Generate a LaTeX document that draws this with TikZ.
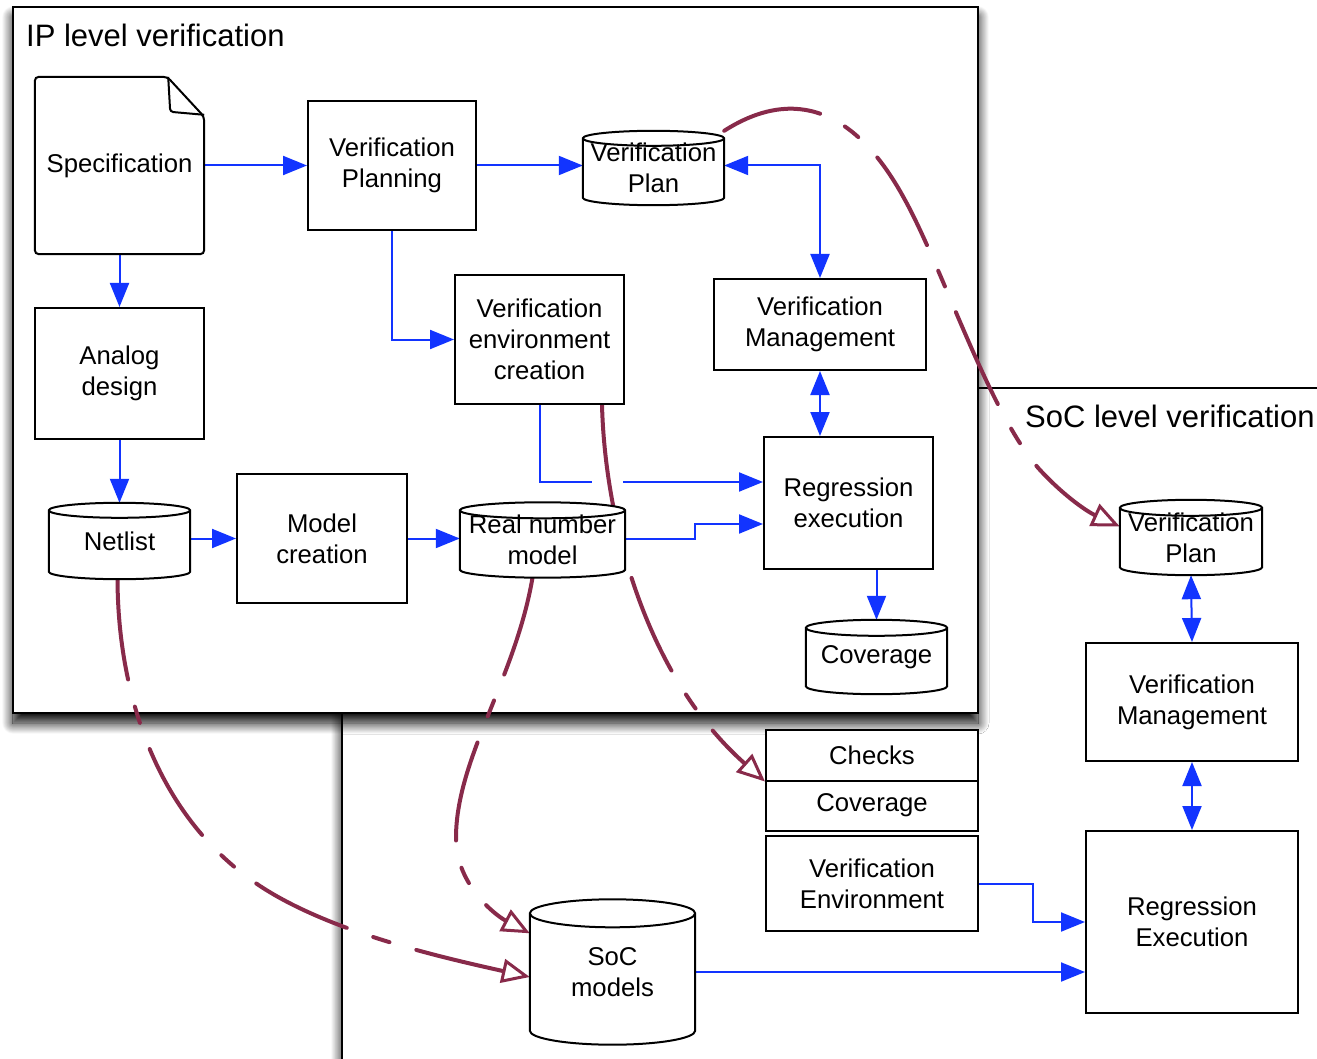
\documentclass[tikz,border=0pt]{standalone}
\usepackage{fontspec}
\setmainfont{Liberation Sans}
\usetikzlibrary{arrows.meta,calc,shadows.blur}

\definecolor{flow}{RGB}{18,52,255}
\definecolor{reuse}{RGB}{136,42,74}

\pgfdeclarelayer{frames}
\pgfdeclarelayer{links}
\pgfdeclarelayer{bodies}
\pgfsetlayers{frames,links,bodies,main}

% database drum drawn around a (borderless) node; #2 = half height of the rim in pt
\newcommand\drum[2]{%
  \filldraw[bodyline] let \p1=(#1.north west), \p2=(#1.south east) in
    (\x1,\y1-#2pt) -- (\x1,\y2+#2pt)
    arc[start angle=180, end angle=360, x radius={(\x2-\x1)/2}, y radius=#2pt]
    -- (\x2,\y1-#2pt)
    arc[start angle=0, end angle=180, x radius={(\x2-\x1)/2}, y radius=#2pt] -- cycle
    (\x1,\y1-#2pt) arc[start angle=180, end angle=360, x radius={(\x2-\x1)/2}, y radius=#2pt];}

% document sheet with a folded corner
\newcommand\sheet[1]{%
  \filldraw[bodyline, rounded corners=4pt] let \p1=(#1.north west), \p2=(#1.south east) in
    (\x1,\y1) -- (\x2-37pt,\y1) -- (\x2,\y1-40pt) -- (\x2,\y2) -- (\x1,\y2) -- cycle;
  \draw[bodyline, fill=none, rounded corners=3pt] let \p1=(#1.north west), \p2=(#1.south east) in
    (\x2-36pt,\y1) -- (\x2-34pt,\y1-35pt) -- (\x2,\y1-38pt);}

\begin{document}
\begin{tikzpicture}[x=1pt, y=1pt,
  lbl/.style={font=\fontsize{25.7}{31}\selectfont, align=center, inner sep=0pt},
  title/.style={font=\fontsize{31}{36}\selectfont, inner sep=0pt, anchor=base west},
  box/.style={lbl, rectangle, draw=black, line width=2pt, fill=white},
  store/.style={lbl, rectangle, draw=none},
  bodyline/.style={draw=black, fill=white, line width=2pt},
  zone/.style={draw=black, line width=2.5pt, fill=white,
    blur shadow={shadow xshift=0pt, shadow yshift=-10pt, shadow blur radius=11pt,
                 shadow blur steps=24, shadow opacity=100}},
  feed/.style={draw=flow, line width=2pt, -{Triangle[length=24pt, width=19pt]}},
  both/.style={draw=flow, line width=2pt, {Triangle[length=24pt, width=19pt]}-{Triangle[length=24pt, width=19pt]}},
  carry/.style={draw=reuse, line width=4pt, line cap=round,
    dash pattern=on 101pt off 28pt on 17pt off 28pt,
    -{Triangle[open, length=28pt, width=24pt, line width=3pt]}}
]
\useasboundingbox (0,0) rectangle (1317,-1059);

% verification scopes
\begin{pgfonlayer}{frames}
  \path[zone] (342,-388) rectangle (1345,-1090);
  \path[zone] (13,-7) rectangle (978,-713);
\end{pgfonlayer}

\node[title] (iptitle) at (26,-47) {IP level verification};
\node[title] (soctitle) at (1025,-427) {SoC level verification};

% IP level
\node[store, minimum width=169pt, minimum height=177pt] (spec) at (119.5,-165.5) {Specification};
\node[box, minimum width=168pt, minimum height=129pt] (plan) at (392,-165.5) {Verification\\Planning};
\node[store, minimum width=141pt, minimum height=74pt] (vplan) at (653.5,-168) {Verification\\Plan};
\node[box, minimum width=169pt, minimum height=129pt] (vec) at (539.5,-339.5) {Verification\\environment\\creation};
\node[box, minimum width=212pt, minimum height=91pt] (vm) at (820,-324.5) {Verification\\Management};
\node[box, minimum width=169pt, minimum height=131pt] (analog) at (119.5,-373.5) {Analog\\design};
\node[store, minimum width=141pt, minimum height=76pt] (netlist) at (119.5,-541) {Netlist};
\node[box, minimum width=170pt, minimum height=129pt] (model) at (322,-538.5) {Model\\creation};
\node[store, minimum width=165pt, minimum height=75pt] (rnm) at (542.5,-540) {Real number\\model};
\node[box, minimum width=169pt, minimum height=132pt] (regex) at (848.5,-503) {Regression\\execution};
\node[store, minimum width=141pt, minimum height=74pt] (cov) at (876.5,-657) {Coverage};

% SoC level
\node[store, minimum width=142pt, minimum height=75pt] (socvp) at (1191,-537.5) {Verification\\Plan};
\node[box, minimum width=212pt, minimum height=118pt] (socvm) at (1192,-702) {Verification\\Management};
\node[box, minimum width=212pt, minimum height=182pt] (socreg) at (1192,-922) {Regression\\Execution};
\node[box, minimum width=212pt, minimum height=51pt] (checks) at (872,-755) {Checks};
\node[box, minimum width=212pt, minimum height=50pt] (cov2) at (872,-805.5) {Coverage};
\node[box, minimum width=212pt, minimum height=95pt] (venv) at (872,-883.5) {Verification\\Environment};
\node[store, minimum width=165pt, minimum height=145pt] (socmodels) at (612.5,-972) {SoC\\models};

% outlines of the stores and the specification sheet
\begin{pgfonlayer}{bodies}
  \sheet{spec}
  \drum{vplan}{7.5}
  \drum{netlist}{7.5}
  \drum{rnm}{8}
  \drum{cov}{8}
  \drum{socvp}{8}
  \drum{socmodels}{14}
\end{pgfonlayer}

\begin{pgfonlayer}{links}
  % flow inside each level
  \draw[feed] (spec.east) -- (plan.west);
  \draw[feed] (plan.east) -- (vplan.west |- plan.east);
  \draw[both] (vplan.east |- plan.east) -| (vm.north);
  \draw[feed] (spec.south) -- (analog.north);
  \draw[feed] (analog.south) -- (netlist.north);
  \draw[feed] (plan.south) |- (vec.west);
  \draw[feed] (vec.south) |- ($(regex.west)+(0,21)$);
  \draw[feed] (netlist.east |- model.west) -- (model.west);
  \draw[feed] (model.east) -- (rnm.west |- model.east);
  \draw[feed] (rnm.east |- model.east) -- ++(70,0) |- ($(regex.west)+(0,-21)$);
  \draw[both] (vm.south) -- (vm.south |- regex.north);
  \draw[feed] (cov.north |- regex.south) -- (cov.north);
  \draw[both] (socvp.south) -- (socvm.north);
  \draw[both] (socvm.south) -- (socreg.north);
  \draw[feed] (venv.east) -- ++(54,0) |- (socreg.west);
  \draw[feed] (socmodels.east) -- (socmodels.east -| socreg.west);

  % line jump where the reuse path crosses
  \coordinate (jumpL) at (592,-482);
  \coordinate (jumpR) at (623,-482);
  \draw[white, line width=5pt] (jumpL) -- (jumpR);

  % reuse of IP results at SoC level
  \draw[carry] (vplan.north east) .. controls (785,-92) and (850,-98) .. (905,-200)
    .. controls (943,-269) and (990,-415) .. (1040,-470)
    .. controls (1065,-497) and (1088,-512) .. ($(socvp.west)+(0,11)$);
  \draw[carry, dash pattern=on 148pt off 28pt on 101pt off 28pt on 17pt off 28pt on 101pt off 28pt]
    ($(vec.south east)+(-23,0)$) .. controls (605,-520) and (645,-675) .. (checks.south west);
  \draw[carry] ($(rnm.south)+(-10,0)$) .. controls (515,-680) and (455,-760) .. (456,-840)
    .. controls (457,-885) and (495,-915) .. ($(socmodels.north west)+(0,-34)$);
  \draw[carry] ($(netlist.south)+(-2,0)$) .. controls (118,-700) and (160,-820) .. (260,-886)
    .. controls (330,-932) and (440,-957) .. ($(socmodels.west)+(0,-5)$);
\end{pgfonlayer}
\end{tikzpicture}
\end{document}
